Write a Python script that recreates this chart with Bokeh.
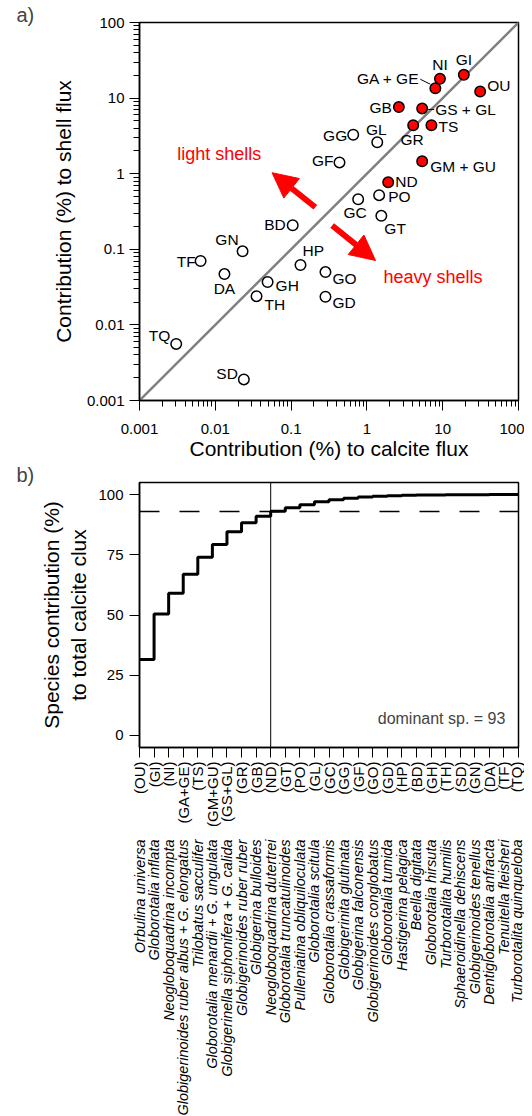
import math
from bokeh.plotting import figure
from bokeh.layouts import column
from bokeh.models import (Range1d, FixedTicker, LinearAxis, Span, Label, Arrow,
                          NormalHead, ColumnDataSource, Title)
from bokeh.core.properties import value
from bokeh.embed import file_html
from bokeh.resources import INLINE

FONT = "Liberation Sans"

# ---------------- data ----------------
codes = ["OU", "GI", "NI", "GA + GE", "TS", "GM + GU", "GS + GL", "GR", "GB", "ND",
         "GT", "PO", "GL", "GC", "GG", "GF", "GO", "GD", "HP", "BD",
         "GH", "TH", "SD", "GN", "DA", "TF", "TQ"]
calcite_pct = [31.2, 19.0, 9.2, 8.0, 7.1, 5.36, 5.36, 4.08, 2.64, 1.91,
               1.55, 1.45, 1.37, 0.767, 0.66, 0.435, 0.284, 0.284, 0.133, 0.105,
               0.049, 0.035, 0.0238, 0.0229, 0.0132, 0.0064, 0.00305]
shell_pct = [12.2, 20.3, 18.0, 13.5, 4.38, 1.46, 7.3, 4.38, 7.6, 0.77,
             0.277, 0.52, 2.61, 0.46, 3.27, 1.41, 0.050, 0.0236, 0.062, 0.208,
             0.037, 0.024, 0.0019, 0.094, 0.047, 0.070, 0.0056]
n_dominant = 10
species_names = [
    "Orbulina universa", "Globorotalia inflata", "Neogloboquadrina incompta",
    "Globigerinoides ruber albus + G. elongatus", "Trilobatus sacculifer",
    "Globorotalia menardii + G. ungulata", "Globigerinella siphonifera + G. calida",
    "Globigerinoides ruber ruber", "Globigerina bulloides", "Neogloboquadrina dutertrei",
    "Globorotalia truncatulinoides", "Pulleniatina obliquiloculata", "Globorotalia scitula",
    "Globorotalia crassaformis", "Globigerinita glutinata", "Globigerina falconensis",
    "Globigerinoides conglobatus", "Globorotalia tumida", "Hastigerina pelagica",
    "Beella digitata", "Globorotalia hirsuta", "Turborotalita humilis",
    "Sphaeroidinella dehiscens", "Globigerinoides tenellus", "Dentigloborotalia anfracta",
    "Tenuitella fleisheri", "Turborotalita quinqueloba"]
cum_calcite = [31.5, 50.4, 59.0, 66.9, 74.0, 79.3, 84.6, 88.3, 91.0, 93.1,
               94.5, 95.8, 97.0, 97.8, 98.5, 99.0, 99.3, 99.55, 99.7, 99.8,
               99.85, 99.9, 99.93, 99.95, 99.97, 99.99, 100.0]
dominant_pct = 93
log_ticks = [0.001, 0.01, 0.1, 1, 10, 100]
log_tick_labels = ["0.001", "0.01", "0.1", "1", "10", "100"]
pct_ticks = [0, 25, 50, 75, 100]

# label placement (align, dx px, dy px)  -- layout only
label_layout = [("left", 7, -6), ("center", 0, -15), ("center", 0, -14), ("right", -16, -10),
                ("left", 7, 1), ("left", 8, 5), ("left", 13, 1), ("center", -1, 14),
                ("right", -7, 0), ("left", 7, -1), ("left", 3, 13), ("left", 9, 1),
                ("center", -1, -13), ("center", -3, 13), ("right", -6, 1), ("right", -6, -2),
                ("left", 7, 6), ("left", 7, 6), ("left", 2, -14), ("right", -7, -1),
                ("left", 8, 4), ("left", 8, 8), ("right", -6, -6), ("right", -4, -12),
                ("center", 0, 14), ("right", -5, 0), ("right", -6, -8)]

DEC = 75.7  # px per decade in panel a


def style_axis(ax, label_size="15px"):
    ax.axis_line_color = "black"
    ax.axis_line_width = 1.5
    ax.major_tick_line_color = "black"
    ax.minor_tick_line_color = "black"
    ax.major_tick_in = 0
    ax.minor_tick_in = 0
    ax.major_tick_out = 10
    ax.minor_tick_out = 6
    ax.major_label_text_font = FONT
    ax.major_label_text_font_size = label_size
    ax.major_label_text_color = "black"
    ax.axis_label_text_font = FONT
    ax.axis_label_text_font_size = "21px"
    ax.axis_label_text_font_style = "normal"
    ax.axis_label_text_color = "black"


# ---------------- panel a ----------------
p1 = figure(x_axis_type="log", y_axis_type="log",
            x_range=Range1d(log_ticks[0], log_ticks[-1]),
            y_range=Range1d(log_ticks[0], log_ticks[-1]),
            frame_width=379, frame_height=378,
            min_border_left=139, min_border_right=6, min_border_top=22, min_border_bottom=64,
            output_backend="svg", toolbar_location=None)
p1.title = Title(text="a)", align="left", offset=-123, standoff=-6,
                 text_font=FONT, text_font_size="20px", text_font_style="normal",
                 vertical_align="bottom")
p1.grid.visible = False
p1.outline_line_color = "black"
p1.outline_line_width = 1.5
p1.background_fill_color = "white"
p1.border_fill_color = "white"

minor = [m * 10.0 ** k for k in range(-3, 2) for m in range(2, 10)]
for ax in (p1.xaxis[0], p1.yaxis[0]):
    style_axis(ax)
    ax.ticker = FixedTicker(ticks=log_ticks, minor_ticks=minor)
    ax.major_label_overrides = {t: s for t, s in zip(log_ticks, log_tick_labels)}
p1.xaxis.axis_label = "Contribution (%) to calcite flux"
p1.yaxis.axis_label = "Contribution (%) to shell flux"
p1.xaxis.major_label_standoff = 13
p1.xaxis.axis_label_standoff = 0
p1.yaxis.major_label_standoff = 5
p1.yaxis.axis_label_standoff = 9

# 1:1 line across the axis range
p1.line([log_ticks[0], log_ticks[-1]], [log_ticks[0], log_ticks[-1]],
        line_color="#808080", line_width=2.5)

# arrows & texts
p1.add_layout(Arrow(end=NormalHead(size=25, fill_color="red", line_color="red"),
                    x_start=0.209, y_start=0.36, x_end=0.0561, y_end=1.03,
                    line_color="red", line_width=6))
p1.add_layout(Arrow(end=NormalHead(size=25, fill_color="red", line_color="red"),
                    x_start=0.348, y_start=0.2065, x_end=1.30, y_end=0.0711,
                    line_color="red", line_width=6))
p1.add_layout(Label(x=0.0113, y=1.83, text="light shells", text_align="center",
                    text_baseline="middle", text_color="red", text_font=FONT,
                    text_font_size="18px"))
p1.add_layout(Label(x=1.656, y=0.0428, text="heavy shells", text_align="left",
                    text_baseline="middle", text_color="red", text_font=FONT,
                    text_font_size="18px"))


def shift(v, px, sign=1):
    return v * 10 ** (sign * px / DEC)


# leader lines
i_ge = codes.index("GA + GE")
i_gs = codes.index("GS + GL")
p1.line([shift(calcite_pct[i_ge], -15), shift(calcite_pct[i_ge], -5)],
        [shift(shell_pct[i_ge], 9), shift(shell_pct[i_ge], 4)],
        line_color="black", line_width=1)
p1.line([shift(calcite_pct[i_gs], 6), shift(calcite_pct[i_gs], 12)],
        [shift(shell_pct[i_gs], -1), shift(shell_pct[i_gs], -1)],
        line_color="black", line_width=1)

src_dom = ColumnDataSource(dict(x=calcite_pct[:n_dominant], y=shell_pct[:n_dominant]))
src_rest = ColumnDataSource(dict(x=calcite_pct[n_dominant:], y=shell_pct[n_dominant:]))
p1.scatter("x", "y", source=src_rest, size=10.5, fill_color="white",
           line_color="black", line_width=1.5)
p1.scatter("x", "y", source=src_dom, size=10.5, fill_color="#ff0000",
           line_color="black", line_width=1.5)

for align in ("left", "center", "right"):
    ids = [i for i, l in enumerate(label_layout) if l[0] == align]
    src = ColumnDataSource(dict(
        x=[calcite_pct[i] for i in ids], y=[shell_pct[i] for i in ids],
        t=[codes[i] for i in ids],
        dx=[label_layout[i][1] for i in ids], dy=[label_layout[i][2] for i in ids]))
    p1.text("x", "y", text="t", x_offset="dx", y_offset="dy", source=src,
            text_align=align, text_baseline="middle", text_font=value(FONT),
            text_font_size="15.5px", text_color="black")

# ---------------- panel b ----------------
idx = list(range(len(codes)))
p2 = figure(x_range=Range1d(idx[0], idx[-1]), y_range=Range1d(-5, 105),
            frame_width=379, frame_height=265,
            min_border_left=139, min_border_right=6, min_border_top=17, min_border_bottom=4,
            output_backend="svg", toolbar_location=None)
p2.grid.visible = False
p2.outline_line_color = "black"
p2.outline_line_width = 1.5
p2.background_fill_color = "white"
p2.border_fill_color = "white"
p2.title = Title(text="b)", align="left", offset=-123, standoff=-6,
                 text_font=FONT, text_font_size="20px", text_font_style="normal",
                 vertical_align="bottom")

p2.step(idx, cum_calcite, mode="after", line_width=3, line_color="black")
p2.add_layout(Span(location=codes.index("ND"), dimension="height", line_color="black",
                   line_width=1))
p2.add_layout(Span(location=dominant_pct, dimension="width", line_color="black",
                   line_width=1.5, line_dash="20 20"))
p2.add_layout(Label(x=25.1, y=7, text=f"dominant sp. = {dominant_pct}", text_align="right",
                    text_baseline="middle", text_font=FONT, text_font_size="16px"))

style_axis(p2.yaxis[0])
p2.yaxis.ticker = FixedTicker(ticks=pct_ticks, minor_ticks=[])
p2.yaxis.axis_label = "Species contribution (%)\nto total calcite clux"
p2.yaxis.major_label_standoff = 6
p2.yaxis.axis_label_standoff = 5

xa = p2.xaxis[0]
style_axis(xa)
xa.ticker = FixedTicker(ticks=idx, minor_ticks=[])
xa.major_label_overrides = {i: "(" + c.replace(" ", "") + ")" for i, c in zip(idx, codes)}
xa.major_label_orientation = math.pi / 2
xa.major_label_standoff = 4

ax2 = LinearAxis(ticker=FixedTicker(ticks=idx, minor_ticks=[]))
ax2.major_label_overrides = {i: n for i, n in zip(idx, species_names)}
ax2.major_label_orientation = math.pi / 2
ax2.major_tick_out = 0
ax2.major_tick_in = 0
ax2.minor_tick_out = 0
ax2.minor_tick_in = 0
ax2.axis_line_color = None
ax2.major_label_standoff = 10
ax2.major_label_text_font = FONT
ax2.major_label_text_font_style = "italic"
ax2.major_label_text_font_size = "14.5px"
ax2.major_label_text_color = "black"
p2.add_layout(ax2, "below")

layout = column(p1, p2)
open("out.html", "w").write(file_html(layout, INLINE))
